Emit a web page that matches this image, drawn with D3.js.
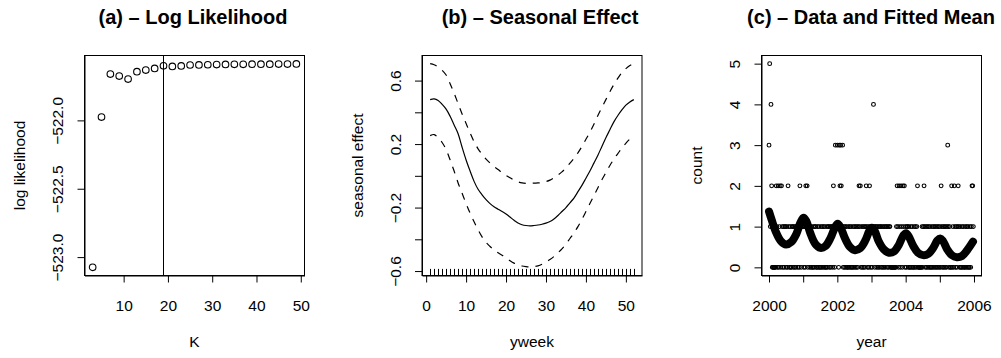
<!DOCTYPE html>
<html><head><meta charset="utf-8">
<script src="https://cdn.jsdelivr.net/npm/d3@7"></script>
<style>
body{margin:0;background:#fff}
svg text{font-family:"Liberation Sans",Arial,Helvetica,sans-serif;fill:#000}
</style></head><body>
<svg id="c" width="1001" height="358"></svg>
<script>
// ---------------- data ----------------
// (a) log likelihood vs K
const kValues = [3,5,7,9,11,13,15,17,19,21,23,25,27,29,31,33,35,37,39,41,43,45,47,49];
const logLik = [-523.075,-521.976,-521.661,-521.676,-521.698,-521.644,-521.632,-521.620,
  -521.601,-521.605,-521.602,-521.595,-521.594,-521.593,-521.592,-521.591,-521.590,-521.590,
  -521.589,-521.589,-521.589,-521.588,-521.588,-521.587];
const selectedK = 19;
const aXTicks = [10,20,30,40,50];
const aYTicks = [-523.0,-522.5,-522.0];
const aXLim = [1.16,50.84];
const aYLim = [-523.1346,-521.5254];

// (b) seasonal effect by week of year
const yweek = [1,2,3,4,5,6,7,8,9,10,11,12,13,14,15,16,17,18,19,20,21,22,23,24,25,26,
  27,28,29,30,31,32,33,34,35,36,37,38,39,40,41,42,43,44,45,46,47,48,49,50,51,52];
const seasonal = [0.48,0.485,0.475,0.45,0.42,0.375,0.32,0.265,0.18,0.10,0.03,-0.035,-0.085,
  -0.12,-0.15,-0.175,-0.195,-0.21,-0.225,-0.24,-0.26,-0.28,-0.297,-0.308,-0.313,-0.315,
  -0.313,-0.31,-0.305,-0.298,-0.288,-0.272,-0.25,-0.225,-0.2,-0.17,-0.14,-0.1,-0.06,-0.015,
  0.03,0.08,0.13,0.185,0.24,0.29,0.34,0.38,0.415,0.445,0.465,0.48];
const seasonalUpper = [0.707,0.70,0.685,0.665,0.635,0.58,0.52,0.455,0.39,0.33,0.27,0.215,0.17,
  0.135,0.105,0.08,0.058,0.04,0.02,0.003,-0.012,-0.027,-0.038,-0.045,-0.048,-0.048,-0.046,
  -0.045,-0.042,-0.036,-0.027,-0.012,0.005,0.025,0.05,0.08,0.11,0.145,0.185,0.23,0.275,0.325,
  0.38,0.43,0.48,0.53,0.575,0.615,0.65,0.675,0.695,0.707];
const seasonalLower = [0.253,0.26,0.24,0.21,0.165,0.10,0.03,-0.045,-0.11,-0.175,-0.235,-0.29,
  -0.34,-0.385,-0.42,-0.445,-0.468,-0.485,-0.50,-0.517,-0.535,-0.55,-0.56,-0.568,-0.572,-0.574,
  -0.572,-0.567,-0.557,-0.543,-0.527,-0.508,-0.485,-0.46,-0.43,-0.395,-0.36,-0.32,-0.275,
  -0.225,-0.175,-0.125,-0.075,-0.025,0.02,0.065,0.105,0.14,0.175,0.205,0.232,0.253];
const bXTicks = [0,10,20,30,40,50];
const bYTicks = [-0.6,-0.4,-0.2,0,0.2,0.4,0.6];
const bYLabelled = [-0.6,-0.2,0.2,0.6];
const bXLim = [-1.04,54.04];
const bYLim = [-0.628,0.758];

// (c) weekly counts, one array per year (weeks 1..52)
const years = [2000,2001,2002,2003,2004,2005];
const counts2000 = [3,5,1,4,2,0,0,0,0,0,0,2,1,0,2,0,1,2,0,2,1,0,1,0,1,1,0,1,0,2,1,0,1,0,0,1,1,0,1,0,1,0,1,1,0,1,0,2,1,0,1,1];
const counts2001 = [1,0,1,0,2,1,2,0,1,1,0,1,0,1,0,0,1,0,1,1,0,0,1,0,1,0,0,1,0,1,0,1,0,1,0,0,1,0,1,1,0,1,0,1,1,0,2,1,0,3,1,1];
const counts2002 = [3,1,0,3,2,3,2,1,3,0,1,0,1,0,1,0,0,1,0,1,0,1,0,0,1,0,1,0,1,0,1,0,1,2,1,2,0,1,0,1,0,1,0,1,2,1,0,1,0,2,1,0];
const counts2003 = [1,0,1,4,1,0,1,1,0,1,0,1,0,1,1,0,1,0,1,0,1,0,1,1,0,1,0,1,1,0,0,0,0,0,0,0,0,0,1,2,1,0,2,1,0,2,1,0,2,1,2,0];
const counts2004 = [1,0,1,1,0,1,0,0,1,0,1,0,0,1,0,1,0,1,2,0,0,0,0,0,0,1,0,1,2,1,0,1,0,1,0,1,0,1,0,0,1,0,1,0,1,0,1,0,1,0,1,0];
const counts2005 = [1,0,2,1,0,1,0,1,0,1,0,1,3,1,0,1,0,0,2,0,1,0,2,1,0,1,0,1,2,1,0,1,0,0,1,0,1,0,0,1,0,1,0,1,0,0,1,0,1,2,2,1];
const countsByYear = [counts2000,counts2001,counts2002,counts2003,counts2004,counts2005];
// fitted mean
const fitYear = [2000.00,2000.08,2000.2,2000.35,2000.5,2000.65,2000.8,2000.92,
  2001.01,2001.09,2001.2,2001.35,2001.5,2001.65,2001.8,2001.93,
  2002.01,2002.09,2002.22,2002.37,2002.52,2002.67,2002.82,2002.94,
  2003.01,2003.09,2003.21,2003.36,2003.51,2003.66,2003.8,2003.93,
  2004.01,2004.09,2004.22,2004.36,2004.51,2004.66,2004.8,2004.93,
  2005.01,2005.09,2005.21,2005.35,2005.5,2005.65,2005.8,2005.97];
const fitMean = [1.37,1.16,0.87,0.64,0.56,0.62,0.82,1.10,
  1.22,1.14,0.86,0.58,0.48,0.52,0.72,0.98,
  1.07,0.99,0.72,0.50,0.42,0.47,0.66,0.90,
  0.97,0.90,0.64,0.44,0.36,0.39,0.55,0.78,
  0.84,0.76,0.53,0.36,0.30,0.33,0.47,0.66,
  0.71,0.65,0.45,0.30,0.25,0.28,0.42,0.63];
const cXTicks = [2000,2001,2002,2003,2004,2005,2006];
const cXLabelled = [2000,2002,2004,2006];
const cYTicks = [0,1,2,3,4,5];
const cXLim = [1999.78,2006.22];
const cYLim = [-0.2,5.2];

// ---------------- drawing ----------------
const svg = d3.select("#c");
const W = 220, H = 220, TOP = 55.5;
const FONT = "15.5px";

function makePanel(left, title, titleX, xLab, yLab) {
  const g = svg.append("g").attr("transform", `translate(${left},${TOP})`);
  svg.append("text").attr("x", titleX).attr("y", 24).attr("text-anchor", "middle")
    .attr("font-weight", "bold").attr("font-size", "20px").text(title);
  svg.append("text").attr("x", left + W / 2).attr("y", 341).attr("text-anchor", "middle")
    .attr("dominant-baseline", "central").attr("font-size", FONT).text(xLab);
  svg.append("text").attr("transform", `translate(${left - 65},${TOP + H / 2}) rotate(-90)`)
    .attr("text-anchor", "middle").attr("dominant-baseline", "central")
    .attr("font-size", FONT).text(yLab);
  return g;
}
function styleAxis(ax) {
  ax.attr("font-family", null).attr("font-size", null);
  ax.selectAll("path.domain").attr("stroke", "#000");
  ax.selectAll(".tick line").attr("stroke", "#000");
  ax.selectAll("text").attr("fill", "#000").attr("font-size", FONT);
}
function xAxis(g, x, ticks, fmt) {
  const ax = g.append("g").attr("transform", `translate(0,${H})`)
    .call(d3.axisBottom(x).tickValues(ticks).tickSize(7).tickSizeOuter(0).tickFormat(fmt));
  styleAxis(ax);
  ax.selectAll("text").attr("y", 30).attr("dy", null).attr("dominant-baseline", "central");
}
function yAxis(g, y, ticks, fmt) {
  const ax = g.append("g")
    .call(d3.axisLeft(y).tickValues(ticks).tickSize(7).tickSizeOuter(0).tickFormat(fmt));
  styleAxis(ax);
  ax.selectAll("text").attr("x", null).attr("dy", null)
    .attr("transform", "translate(-27,0) rotate(-90)")
    .attr("text-anchor", "middle").attr("dominant-baseline", "central");
}
function box(g) {
  g.append("rect").attr("x", 0).attr("y", 0).attr("width", W).attr("height", H)
    .attr("fill", "none").attr("stroke", "#000").attr("stroke-width", 1);
}

// Panel (a)
{
  const g = makePanel(84.5, "(a) \u2013 Log Likelihood", 193, "K", "log likelihood");
  const x = d3.scaleLinear().domain(aXLim).range([0, W]);
  const y = d3.scaleLinear().domain(aYLim).range([H, 0]);
  box(g);
  xAxis(g, x, aXTicks, d3.format("d"));
  yAxis(g, y, aYTicks, d3.format(".1f"));
  g.append("line").attr("x1", x(selectedK)).attr("x2", x(selectedK))
    .attr("y1", 0).attr("y2", H).attr("stroke", "#000").attr("stroke-width", 1);
  g.selectAll("circle.p").data(kValues).join("circle").attr("class", "p")
    .attr("cx", d => x(d)).attr("cy", (d, i) => y(logLik[i])).attr("r", 3.3)
    .attr("fill", "none").attr("stroke", "#000").attr("stroke-width", 1.1);
}

// Panel (b)
{
  const g = makePanel(422, "(b) \u2013 Seasonal Effect", 540, "yweek", "seasonal effect");
  const x = d3.scaleLinear().domain(bXLim).range([0, W]);
  const y = d3.scaleLinear().domain(bYLim).range([H, 0]);
  box(g);
  xAxis(g, x, bXTicks, d3.format("d"));
  yAxis(g, y, bYTicks, d => bYLabelled.some(v => Math.abs(v - d) < 1e-9) ? d3.format(".1f")(d) : "");
  const line = arr => d3.line().x((d, i) => x(yweek[i])).y(d => y(d)).curve(d3.curveCatmullRom)(arr);
  g.append("path").attr("d", line(seasonal)).attr("fill", "none").attr("stroke", "#000").attr("stroke-width", 1.2);
  [seasonalUpper, seasonalLower].forEach(s => {
    g.append("path").attr("d", line(s)).attr("fill", "none").attr("stroke", "#000")
      .attr("stroke-width", 1.2).attr("stroke-dasharray", "7,7");
  });
  // rug of observed weeks
  const weeksObserved = Array.from(new Set(countsByYear.flatMap(c => c.map((v, i) => i + 1))));
  g.selectAll("line.rug").data(weeksObserved).join("line").attr("class", "rug")
    .attr("x1", d => Math.round(x(d)) + 0.5).attr("x2", d => Math.round(x(d)) + 0.5)
    .attr("y1", H).attr("y2", H - 6.6)
    .attr("stroke", "#000").attr("stroke-width", 1);
}

// Panel (c)
{
  const g = makePanel(761.5, "(c) \u2013 Data and Fitted Mean", 871, "year", "count");
  const x = d3.scaleLinear().domain(cXLim).range([0, W]);
  const y = d3.scaleLinear().domain(cYLim).range([H, 0]);
  box(g);
  xAxis(g, x, cXTicks, d => cXLabelled.includes(d) ? String(d) : "");
  yAxis(g, y, cYTicks, d3.format("d"));
  const pts = [];
  countsByYear.forEach((arr, yi) => arr.forEach((v, w) => pts.push({t: years[yi] + w / 52, c: v})));
  g.selectAll("circle.d").data(pts).join("circle").attr("class", "d")
    .attr("cx", d => x(d.t)).attr("cy", d => y(d.c)).attr("r", 1.9)
    .attr("fill", "none").attr("stroke", "#000").attr("stroke-width", 1.1);
  const fl = d3.line().x((d, i) => x(fitYear[i])).y(d => y(d)).curve(d3.curveCatmullRom);
  g.append("path").attr("d", fl(fitMean)).attr("fill", "none").attr("stroke", "#000")
    .attr("stroke-width", 8).attr("stroke-linecap", "round").attr("stroke-linejoin", "round");
}
</script>
</body></html>
